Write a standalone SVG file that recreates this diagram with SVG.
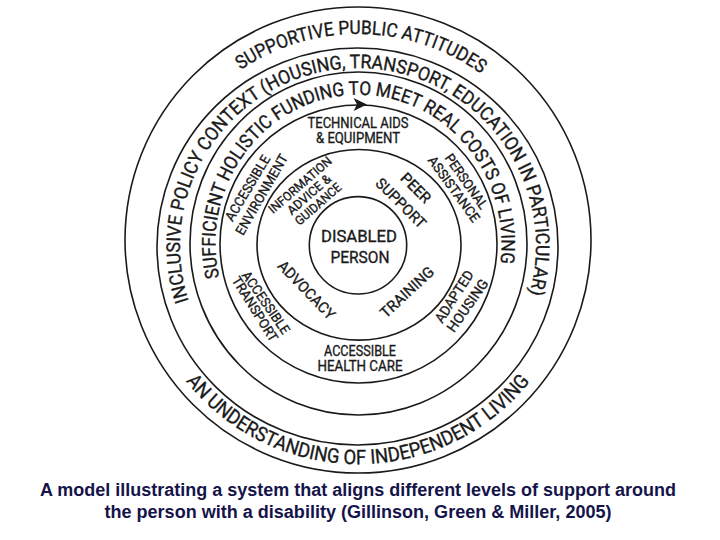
<svg xmlns="http://www.w3.org/2000/svg" width="720" height="540" viewBox="0 0 720 540">
<style>
.ring{fill:none;stroke:#1a1a1a;stroke-width:1.6}
.t{font-family:Roboto,"Open Sans","Liberation Sans",sans-serif;fill:#1a1a1a;stroke:#1a1a1a;stroke-width:0.35}
.c{text-anchor:middle}
.cap{font-family:"Liberation Sans",Arial,sans-serif;font-weight:bold;fill:#14144a;font-size:17.5px;text-anchor:middle}
</style>
<defs>
<path id="p1" d="M240.6,69.9 A210,210 0 0 1 482.9,75.2"/>
<path id="p2" d="M185.8,381.0 A220,220 0 0 0 531.4,379.5"/>
<path id="p3" d="M188.7,301.0 A178,178 0 1 1 528.7,296.6"/>
<path id="p4" d="M219.2,277.5 A143,149 0 1 1 499.7,267.3"/>
</defs>
<rect width="720" height="540" fill="#ffffff"/>
<g id="rings">
<circle class="ring" cx="358" cy="240" r="233"/>
<ellipse class="ring" cx="357.5" cy="246.5" rx="200.5" ry="198.5"/>
<ellipse class="ring" cx="358.5" cy="243.5" rx="168.5" ry="171.5"/>
<ellipse class="ring" cx="358.5" cy="244" rx="138.5" ry="139"/>
<ellipse class="ring" cx="359" cy="244.8" rx="102" ry="95.3"/>
<circle class="ring" cx="358" cy="245.3" r="48.7"/>
</g>
<g id="connectors">
<path d="M367,104.5 L353.5,98 L357,104.5 L353.5,111 Z" fill="#1a1a1a"/>
</g>
<g id="supportive-public-attitudes">
<text class="t" font-size="19"><textPath href="#p1" textLength="256" lengthAdjust="spacingAndGlyphs">SUPPORTIVE PUBLIC ATTITUDES</textPath></text>
</g>
<g id="understanding-independent-living">
<text class="t" font-size="20"><textPath href="#p2" textLength="395" lengthAdjust="spacingAndGlyphs">AN UNDERSTANDING OF INDEPENDENT LIVING</textPath></text>
</g>
<g id="inclusive-policy-context">
<text class="t" font-size="19"><textPath href="#p3" textLength="663" lengthAdjust="spacingAndGlyphs">INCLUSIVE POLICY CONTEXT (HOUSING, TRANSPORT, EDUCATION IN PARTICULAR)</textPath></text>
</g>
<g id="sufficient-holistic-funding">
<text class="t" font-size="19"><textPath href="#p4" textLength="512" lengthAdjust="spacingAndGlyphs">SUFFICIENT HOLISTIC FUNDING TO MEET REAL COSTS OF LIVING</textPath></text>
</g>
<g id="technical-aids">
<text class="t c" font-size="14" x="358" y="128" textLength="101" lengthAdjust="spacingAndGlyphs">TECHNICAL AIDS</text>
<text class="t c" font-size="14" x="358" y="143" textLength="84" lengthAdjust="spacingAndGlyphs">&amp; EQUIPMENT</text>
</g>
<g id="accessible-health-care">
<text class="t c" font-size="14" x="360" y="356" textLength="72" lengthAdjust="spacingAndGlyphs">ACCESSIBLE</text>
<text class="t c" font-size="14" x="360" y="371" textLength="85" lengthAdjust="spacingAndGlyphs">HEALTH CARE</text>
</g>
<g id="disabled-person">
<text class="t c" font-size="17" x="359" y="242" textLength="76" lengthAdjust="spacingAndGlyphs">DISABLED</text>
<text class="t c" font-size="17" x="360" y="263" textLength="59" lengthAdjust="spacingAndGlyphs">PERSON</text>
</g>
<g id="information-advice">
<text class="t c" font-size="12.5" transform="translate(300,185) rotate(-41)" y="4.4" textLength="79" lengthAdjust="spacingAndGlyphs">INFORMATION</text>
<text class="t c" font-size="12.5" transform="translate(309,194.5) rotate(-41)" y="4.4">ADVICE &amp;</text>
<text class="t c" font-size="12.5" transform="translate(318,204) rotate(-41)" y="4.4" textLength="57" lengthAdjust="spacingAndGlyphs">GUIDANCE</text>
</g>
<g id="peer-support">
<text class="t c" font-size="15" transform="translate(416,188) rotate(45)" y="5.3">PEER</text>
<text class="t c" font-size="15" transform="translate(401,203) rotate(45)" y="5.3" textLength="64" lengthAdjust="spacingAndGlyphs">SUPPORT</text>
</g>
<g id="advocacy">
<text class="t c" font-size="15" transform="translate(306.7,290) rotate(46)" y="5.3" textLength="75" lengthAdjust="spacingAndGlyphs">ADVOCACY</text>
</g>
<g id="training">
<text class="t c" font-size="15" transform="translate(407,292) rotate(-43)" y="5.3" textLength="67" lengthAdjust="spacingAndGlyphs">TRAINING</text>
</g>
<g id="personal-assistance">
<text class="t c" font-size="13.5" transform="translate(466.5,181.5) rotate(55)" y="4.8" textLength="64" lengthAdjust="spacingAndGlyphs">PERSONAL</text>
<text class="t c" font-size="13.5" transform="translate(454,189) rotate(54)" y="4.8" textLength="78" lengthAdjust="spacingAndGlyphs">ASSISTANCE</text>
</g>
<g id="adapted-housing">
<text class="t c" font-size="14" transform="translate(454,296.5) rotate(-57)" y="5" textLength="59" lengthAdjust="spacingAndGlyphs">ADAPTED</text>
<text class="t c" font-size="14" transform="translate(467.5,305.5) rotate(-55)" y="5" textLength="61" lengthAdjust="spacingAndGlyphs">HOUSING</text>
</g>
<g id="accessible-transport">
<text class="t c" font-size="13.5" transform="translate(266,302.5) rotate(55.4)" y="4.8" textLength="73" lengthAdjust="spacingAndGlyphs">ACCESSIBLE</text>
<text class="t c" font-size="13.5" transform="translate(255,309) rotate(58)" y="4.8" textLength="74" lengthAdjust="spacingAndGlyphs">TRANSPORT</text>
</g>
<g id="accessible-environment">
<text class="t c" font-size="13.5" transform="translate(247.5,188) rotate(-59)" y="4.8" textLength="74" lengthAdjust="spacingAndGlyphs">ACCESSIBLE</text>
<text class="t c" font-size="13.5" transform="translate(261.5,194.5) rotate(-60)" y="4.8" textLength="91" lengthAdjust="spacingAndGlyphs">ENVIRONMENT</text>
</g>
<g id="caption">
<text class="cap" x="358" y="496" textLength="636" lengthAdjust="spacingAndGlyphs">A model illustrating a system that aligns different levels of support around</text>
<text class="cap" x="358" y="518" textLength="507" lengthAdjust="spacingAndGlyphs">the person with a disability (Gillinson, Green &amp; Miller, 2005)</text>
</g>
</svg>
